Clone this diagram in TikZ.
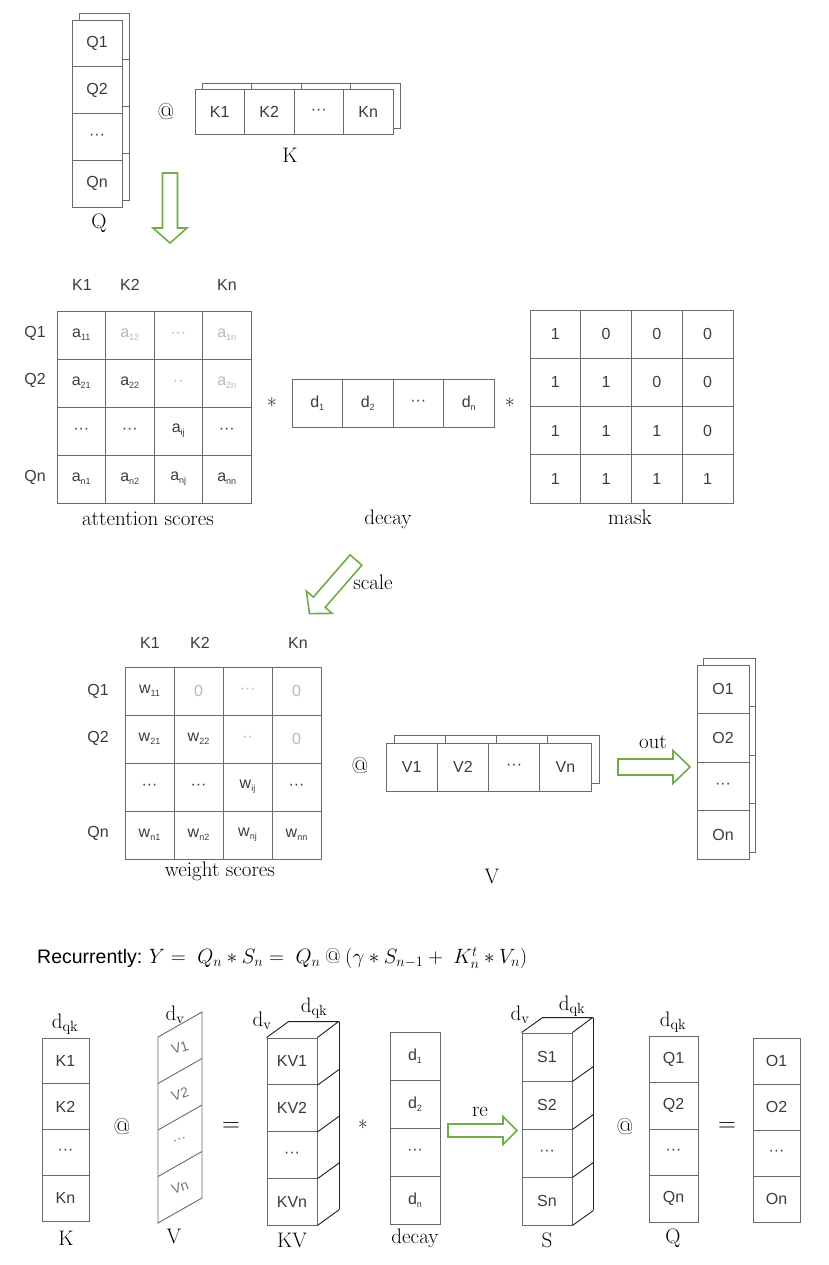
\documentclass[tikz,border=0pt]{standalone}
\usepackage{fontspec}
\newfontfamily\cellf{Liberation Sans}
\usetikzlibrary{calc}
\definecolor{gridc}{RGB}{105,105,105}
\definecolor{darkc}{RGB}{30,30,30}
\definecolor{txtc}{RGB}{60,60,60}
\definecolor{lightc}{RGB}{185,185,185}
\definecolor{arrg}{RGB}{112,173,71}
\newcommand\cellfont{\cellf\fontsize{16}{18}\selectfont}
\newcommand\capfont{\fontsize{21}{24}\selectfont}
\newcommand\opfont{\fontsize{23}{26}\selectfont}
\newcommand\subx[1]{\raisebox{-0.35ex}{\fontsize{9}{9}\selectfont #1}}
\newcommand\lt[1]{{\color{lightc}#1}}
\newcommand\cdts{···}
\newcommand\ddts{··}
% x, y, angle, length, shaft half width, head half width, head length
\newcommand\blockarr[7]{%
  \begin{scope}[shift={(#1,#2)},rotate=#3]
    \draw[garrow] (0,-#5) -- (#4-#7,-#5) -- (#4-#7,-#6) -- (#4,0) -- (#4-#7,#6) -- (#4-#7,#5) -- (0,#5) -- cycle;
  \end{scope}}
\begin{document}
\begin{tikzpicture}[x=1pt,y=-1pt,
  cell/.style={draw=gridc,fill=white,line width=0.9pt,inner sep=0pt,font=\cellfont,text=txtc},
  hdr/.style={font=\cellfont,text=txtc,inner sep=0pt},
  lbl/.style={font=\capfont,inner sep=0pt},
  op/.style={font=\opfont,inner sep=0pt},
  depth/.style={draw=darkc,line width=0.9pt},
  garrow/.style={draw=arrg,line width=1.6pt,fill=white,line join=miter}]
\useasboundingbox[fill=white] (0,0) rectangle (828,1265);

% ---------- top: Q stack ----------
\foreach \i in {1,...,4}
  \node[cell,minimum width=50,minimum height=46.75] (qb\i) at (104,{20+46.75*(\i-0.5)-7}) {};
\foreach \t [count=\i] in {Q1,Q2,\cdts,Qn}
  \node[cell,minimum width=50,minimum height=46.75] (q\i) at (97,{20+46.75*(\i-0.5)}) {\t};
\node[lbl] (qlab) at (99,223) {Q};

\node[op] (at1) at (166,112) {@};

% ---------- top: K row ----------
\foreach \i in {1,...,4}
  \node[cell,minimum width=49.5,minimum height=45] (kb\i) at ({195+49.5*(\i-0.5)+7},105.5) {};
\foreach \t [count=\i] in {K1,K2,\cdts,Kn}
  \node[cell,minimum width=49.5,minimum height=45] (k\i) at ({195+49.5*(\i-0.5)},111.5) {\t};
\node[lbl] (klab) at (290,155) {K};

\blockarr{170}{173}{-90}{70}{7.5}{17}{15}

% ---------- attention scores ----------
\foreach \c/\ta/\tb/\tc/\td in {
  1/{a\subx{11}}/{a\subx{21}}/{\cdts}/{a\subx{n1}},
  2/{\lt{a\subx{12}}}/{a\subx{22}}/{\cdts}/{a\subx{n2}},
  3/{\lt{\cdts}}/{\lt{\ddts}}/{a\subx{ij}}/{a\subx{nj}},
  4/{\lt{a\subx{1n}}}/{\lt{a\subx{2n}}}/{\cdts}/{a\subx{nn}}}{
  \foreach \r/\t in {1/\ta,2/\tb,3/\tc,4/\td}
    \node[cell,minimum width=48.5,minimum height=48] (as\r\c) at ({57+48.5*(\c-0.5)},{311+48*(\r-0.5)}) {\t};
}
\node[hdr] (ak1) at (82,285) {K1};
\node[hdr] (ak2) at (130,285) {K2};
\node[hdr] (akn) at (227,285) {Kn};
\node[hdr] (aq1) at (35,333) {Q1};
\node[hdr] (aq2) at (35,380) {Q2};
\node[hdr] (aqn) at (35,477) {Qn};
\node[lbl] (aslab) at (148,519) {attention scores};

\node[lbl] (st1) at (272,406) {*};

% ---------- decay row ----------
\foreach \t [count=\i] in {d\subx{1},d\subx{2},\cdts,d\subx{n}}
  \node[cell,minimum width=50.5,minimum height=48] (d\i) at ({292+50.5*(\i-0.5)},403) {\t};
\node[lbl] (dlab) at (388,519) {decay};

\node[lbl] (st2) at (510,406) {*};

% ---------- mask ----------
\foreach \r in {1,...,4}
  \foreach \c in {1,...,4}{
    \pgfmathtruncatemacro\v{\c<=\r ? 1 : 0}
    \node[cell,minimum width=50.75,minimum height=48.25] (m\r\c) at ({530+50.75*(\c-0.5)},{310+48.25*(\r-0.5)}) {\v};
  }
\node[lbl] (mlab) at (630,517) {mask};

% ---------- scale arrow ----------
\blockarr{356}{560}{229}{71}{7.8}{17}{15}
\node[lbl] (scl) at (373,582) {scale};

% ---------- weight scores ----------
\foreach \c/\ta/\tb/\tc/\td in {
  1/{w\subx{11}}/{w\subx{21}}/{\cdts}/{w\subx{n1}},
  2/{\lt{0}}/{w\subx{22}}/{\cdts}/{w\subx{n2}},
  3/{\lt{\cdts}}/{\lt{\ddts}}/{w\subx{ij}}/{w\subx{nj}},
  4/{\lt{0}}/{\lt{0}}/{\cdts}/{w\subx{nn}}}{
  \foreach \r/\t in {1/\ta,2/\tb,3/\tc,4/\td}
    \node[cell,minimum width=49,minimum height=48] (ws\r\c) at ({125+49*(\c-0.5)},{667+48*(\r-0.5)}) {\t};
}
\node[hdr] (wk1) at (150,643) {K1};
\node[hdr] (wk2) at (200,643) {K2};
\node[hdr] (wkn) at (298,643) {Kn};
\node[hdr] (wq1) at (98,691) {Q1};
\node[hdr] (wq2) at (98,738) {Q2};
\node[hdr] (wqn) at (98,833) {Qn};
\node[lbl] (wslab) at (220,871) {weight scores};

\node[op] (at2) at (360,766) {@};

% ---------- V row ----------
\foreach \i in {1,...,4}
  \node[cell,minimum width=51.25,minimum height=48] (vb\i) at ({386+51.25*(\i-0.5)+8},759) {};
\foreach \t [count=\i] in {V1,V2,\cdts,Vn}
  \node[cell,minimum width=51.25,minimum height=48] (v\i) at ({386+51.25*(\i-0.5)},767) {\t};
\node[lbl] (vlab) at (492,876) {V};

% ---------- out arrow ----------
\blockarr{618}{767}{0}{72}{8}{16.5}{17}
\node[lbl] (outl) at (653,742) {out};

% ---------- O stack ----------
\foreach \i in {1,...,4}
  \node[cell,minimum width=52,minimum height=48.5] (ob\i) at (729,{665+48.5*(\i-0.5)-7}) {};
\foreach \t [count=\i] in {O1,O2,\cdts,On}
  \node[cell,minimum width=52,minimum height=48.5] (o\i) at (723,{665+48.5*(\i-0.5)}) {\t};

% ---------- recurrent formula ----------
\node[anchor=west,inner sep=0pt,font=\fontsize{21.5}{24}\selectfont] (rec) at (37,958)
  {{\cellf\fontsize{19.5}{22}\selectfont Recurrently:}\ $Y=\;Q_n*S_n=\;Q_n\mathbin{@}(\gamma*S_{n-1}+\;K_n^t*V_n)$};

% ---------- bottom: K column ----------
\foreach \t [count=\i] in {K1,K2,\cdts,Kn}
  \node[cell,minimum width=47,minimum height=45.75] (bk\i) at (65.5,{1038+45.75*(\i-0.5)}) {\t};
\node[lbl] (bkd) at (65,1024) {$\mathrm{d}_{\mathrm{qk}}$};
\node[lbl] (bklab) at (66,1238) {K};

\node[op] (bat1) at (122,1127) {@};

% ---------- bottom: V parallelogram ----------
\draw[gridc,line width=0.9pt] (158,1037) -- (202,1012) -- (202,1198) -- (158,1223) -- cycle;
\foreach \k in {1,2,3}
  \draw[gridc,line width=0.9pt] (158,{1037+46.5*\k}) -- (202,{1012+46.5*\k});
\foreach \t [count=\i] in {V1,V2,\cdts,Vn}
  \node[hdr,text=black!55,rotate=18,font=\cellf\fontsize{14}{16}\selectfont] (bv\i) at (180,{1037+46.5*(\i-0.5)-12.5}) {\t};
\node[lbl] (bvd) at (175,1015) {$\mathrm{d}_{\mathrm{v}}$};
\node[lbl] (bvlab) at (174,1236) {V};

\node[op] (beq1) at (231,1127) {$=$};

% ---------- bottom: KV box ----------
\foreach \t [count=\i] in {KV1,KV2,\cdts,KVn}
  \node[cell,minimum width=50,minimum height=46.75] (kv\i) at (292,{1038+46.75*(\i-0.5)}) {\t};
\draw[depth] (kv1.north west) -- ++(22,-16) -- ++(50,0) -- (kv1.north east);
\draw[depth] (kv1.north east) ++(22,-16) -- ++(0,187);
\foreach \i in {1,...,4}
  \draw[depth] (kv\i.south east) -- ++(22,-16);
\node[lbl] (kvd1) at (262,1021) {$\mathrm{d}_{\mathrm{v}}$};
\node[lbl] (kvd2) at (314,1008) {$\mathrm{d}_{\mathrm{qk}}$};
\node[lbl] (kvlab) at (292,1240) {KV};

\node[lbl] (bst) at (363,1128) {*};

% ---------- bottom: decay column ----------
\foreach \t [count=\i] in {d\subx{1},d\subx{2},\cdts,d\subx{n}}
  \node[cell,minimum width=50,minimum height=48] (bd\i) at (415,{1032+48*(\i-0.5)}) {\t};
\node[lbl] (bdlab) at (415,1238) {decay};

\blockarr{448}{1130.5}{0}{69}{6.5}{14}{14}
\node[lbl] (rel) at (480,1112) {re};

% ---------- bottom: S box ----------
\foreach \t [count=\i] in {S1,S2,\cdts,Sn}
  \node[cell,minimum width=50,minimum height=48] (s\i) at (547,{1033+48*(\i-0.5)}) {\t};
\draw[depth] (s1.north west) -- ++(21,-15) -- ++(50,0) -- (s1.north east);
\draw[depth] (s1.north east) ++(21,-15) -- ++(0,192);
\foreach \i in {1,...,4}
  \draw[depth] (s\i.south east) -- ++(21,-15);
\node[lbl] (sd1) at (520,1015) {$\mathrm{d}_{\mathrm{v}}$};
\node[lbl] (sd2) at (572,1006) {$\mathrm{d}_{\mathrm{qk}}$};
\node[lbl] (slab) at (547,1240) {S};

\node[op] (bat2) at (625,1127) {@};

% ---------- bottom: Q column ----------
\foreach \t [count=\i] in {Q1,Q2,\cdts,Qn}
  \node[cell,minimum width=49,minimum height=46.5] (bq\i) at (673.5,{1036+46.5*(\i-0.5)}) {\t};
\node[lbl] (bqd) at (673,1022) {$\mathrm{d}_{\mathrm{qk}}$};
\node[lbl] (bqlab) at (673,1238) {Q};

\node[op] (beq2) at (727,1127) {$=$};

% ---------- bottom: O column ----------
\foreach \t [count=\i] in {O1,O2,\cdts,On}
  \node[cell,minimum width=47,minimum height=46] (bo\i) at (776.5,{1038+46*(\i-0.5)}) {\t};
\end{tikzpicture}
\end{document}
